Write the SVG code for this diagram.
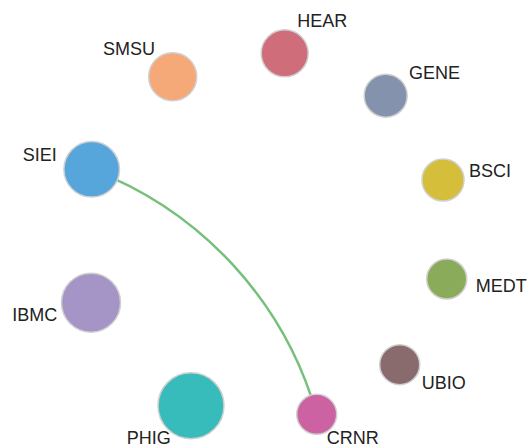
<svg xmlns="http://www.w3.org/2000/svg" width="528" height="448" viewBox="0 0 528 448">
<style>
.n{stroke:#d0d0d0;stroke-width:1.5}
.l{font-family:"Liberation Sans",Arial,sans-serif;font-size:18px;fill:#222}
.e{fill:none;stroke:#77c07c;stroke-width:2.5}
</style>
<rect width="528" height="448" fill="#fff"/>
<g id="connectors">
<path class="e" d="M91.7,169.3 A370.5,370.5 0 0,1 316.7,414.3"/>
</g>
<g id="SMSU"><circle class="n" cx="172.7" cy="76.7" r="24" fill="#f5a878"/><text class="l" x="103" y="55">SMSU</text></g>
<g id="HEAR"><circle class="n" cx="284.7" cy="53.3" r="23.5" fill="#cf6e7a"/><text class="l" x="297.3" y="27.3">HEAR</text></g>
<g id="GENE"><circle class="n" cx="385.7" cy="95.7" r="21.5" fill="#8592ad"/><text class="l" x="409" y="79.3">GENE</text></g>
<g id="SIEI"><circle class="n" cx="91.7" cy="169.3" r="27.8" fill="#57a6db"/><text class="l" x="22.7" y="161">SIEI</text></g>
<g id="BSCI"><circle class="n" cx="443" cy="180" r="21" fill="#d4be3a"/><text class="l" x="469" y="176.7">BSCI</text></g>
<g id="MEDT"><circle class="n" cx="446.7" cy="279" r="20" fill="#8aab5a"/><text class="l" x="475.7" y="291.7">MEDT</text></g>
<g id="IBMC"><circle class="n" cx="91" cy="302.7" r="29.5" fill="#a595c7"/><text class="l" x="12.3" y="320.7">IBMC</text></g>
<g id="UBIO"><circle class="n" cx="399.7" cy="364.7" r="20" fill="#8a6b6d"/><text class="l" x="421.7" y="389">UBIO</text></g>
<g id="PHIG"><circle class="n" cx="191" cy="405.7" r="33" fill="#38bcbb"/><text class="l" x="126.7" y="444">PHIG</text></g>
<g id="CRNR"><circle class="n" cx="316.7" cy="414.3" r="20" fill="#cc62a2"/><text class="l" x="326.7" y="444">CRNR</text></g>
</svg>
